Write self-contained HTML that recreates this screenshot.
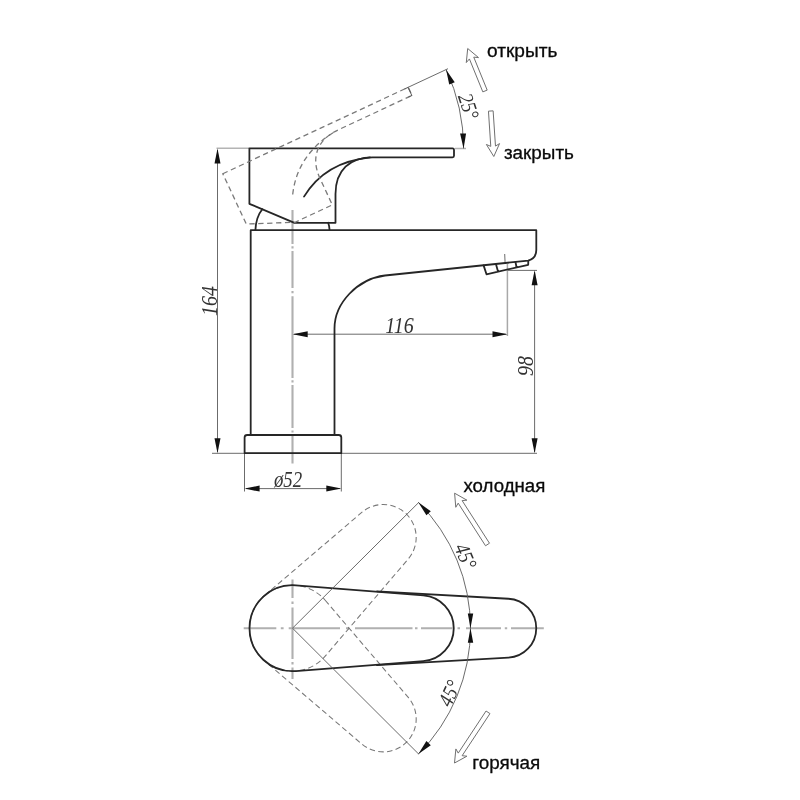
<!DOCTYPE html>
<html lang="ru"><head><meta charset="utf-8"><title>Схема смесителя</title>
<style>html,body{margin:0;padding:0;background:#fff}body{width:800px;height:800px;overflow:hidden}svg{display:block;will-change:transform;transform:translateZ(0)}.lbl{font-family:"Liberation Sans",sans-serif;font-size:18px;fill:#0a0a0a;stroke:#0a0a0a;stroke-width:0.3}.dim{font-family:"Liberation Serif",serif;font-style:italic;font-size:23.5px;fill:#333}.m{fill:none;stroke:#262626;stroke-width:1.8;stroke-linecap:round;stroke-linejoin:round}.t{fill:none;stroke:#5a5a5a;stroke-width:0.9}.d{fill:none;stroke:#7a7a7a;stroke-width:1.3;stroke-dasharray:5.3 3.6}.d2{fill:none;stroke:#777;stroke-width:1.05;stroke-dasharray:5.5 3.3}.cs{fill:none;stroke:#b0b0b0;stroke-width:2.1}.c{fill:none;stroke:#999;stroke-width:1.3;stroke-dasharray:22 4 3 4}</style></head><body>
<svg width="800" height="800" viewBox="0 0 800 800">
<rect width="800" height="800" fill="#fff"/>
<path class="cs" d="M292.5,210 V244 M292.5,246.3 V248.5 M292.5,251 V288 M292.5,291 V293.2 M292.5,296.2 V378 M292.5,380.3 V382.5 M292.5,385 V428 M292.5,430.5 V432.5 M292.5,435 V463.5"/>
<path class="t" d="M212,453.3 H537 M217.5,150 V452 M244.5,454 V491.5 M341.3,454 V491.5 M246,488.6 H340 M294,334.2 H506 M504.7,254 L505.1,263 M508,270.4 H537 M534.6,272 V452"/>
<path d="M507.4,264 V336" fill="none" stroke="#a8a8a8" stroke-width="1.5"/>
<path d="M216.5,148.2 H249 M455,148.5 H466" fill="none" stroke="#b4b4b4" stroke-width="1.4"/>
<path class="m" d="M249.4,148.3 H452.5 Q454,148.3 454,149.8 V155.8 Q454,157.3 452.5,157.3 H372.5 C350,157.3 335.5,170 335.5,194 V222.8 H294.4 L249.4,203.8 Z"/>
<path class="m" d="M304,196.6 Q325,162 370,157.3"/>
<g transform="rotate(-25 293.5 221)"><path class="d" d="M249.4,148.3 H452.5 Q454,148.3 454,149.8 V155.8 Q454,157.3 452.5,157.3 H372.5 C350,157.3 335.5,170 335.5,194 V222.8 H294.4 L249.4,203.8 Z"/><path class="d" d="M304,196.6 Q325,162 370,157.3"/><path class="t" d="M450,148.3 H453.8 V157.3 H450"/></g>
<path class="m" d="M255.4,230.2 Q256,217 262.3,209.3 M329.6,230.2 Q329.4,226 328.2,222.8"/>
<path class="m" d="M250.7,434 V230.2 H536.3 V250 Q536.3,258.3 528.3,260.6 L385,275.5 C357.5,279 334.5,303 334.5,328.5 V434"/>
<path class="m" d="M483.6,265.4 L486.5,274.3 L528.2,264.8 L528.3,260.6 M496,264.2 L498,271.5 M515.5,262.2 L516.6,267.4" style="stroke-width:1.8"/>
<path class="m" d="M244.6,453.2 V437.5 Q244.6,435 247.2,435 H338.7 Q341.3,435 341.3,437.5 V453.2 Z"/>
<polygon points="217.5,148.6 220.5,163.6 214.5,163.6" fill="#111"/>
<polygon points="217.5,453.2 214.5,438.2 220.5,438.2" fill="#111"/>
<polygon points="244.6,488.6 259.6,485.6 259.6,491.6" fill="#111"/>
<polygon points="341.3,488.6 326.3,491.6 326.3,485.6" fill="#111"/>
<polygon points="292.7,334.2 307.7,331.2 307.7,337.2" fill="#111"/>
<polygon points="507.5,334.2 492.5,337.2 492.5,331.2" fill="#111"/>
<polygon points="534.6,270.2 537.6,285.2 531.6,285.2" fill="#111"/>
<polygon points="534.6,453.2 531.6,438.2 537.6,438.2" fill="#111"/>
<path class="t" d="M446.12,69.64 A186.6,186.6 0 0 1 463.6,148.5"/>
<path class="t" d="M407.5,87.6 L448,68.7"/>
<polygon points="463.6,148.5 460.08,133.61 466.07,133.4" fill="#111"/>
<polygon points="446.12,69.64 454.74,82.27 449.22,84.62" fill="#111"/>
<text class="dim" transform="translate(216.5,301) rotate(-90) scale(0.85,1)" text-anchor="middle">164</text>
<text class="dim" transform="translate(399.5,333) scale(0.85,1)" text-anchor="middle">116</text>
<text class="dim" transform="translate(533,366) rotate(-90) scale(0.85,1)" text-anchor="middle">98</text>
<text class="dim" transform="translate(288,487.3) scale(0.8,1)" text-anchor="middle">ø52</text>
<text class="dim" transform="translate(461.8,108.5) rotate(72) scale(0.85,1)" style="font-size:21.5px" text-anchor="middle">25°</text>
<polygon points="487.18,90.11 473.76,57.15 478.53,57.59 467.7,48.5 466.3,62.57 469.41,58.93 482.82,91.89" fill="#fff" stroke="#707070" stroke-width="1" stroke-linejoin="miter"/>
<polygon points="488.46,111.15 490.78,146.38 486.39,144.46 493.8,156.5 499.56,143.59 495.47,146.07 493.14,110.85" fill="#fff" stroke="#707070" stroke-width="1" stroke-linejoin="miter"/>
<text class="lbl" x="487" y="56.6" textLength="70.4" lengthAdjust="spacingAndGlyphs">открыть</text>
<text class="lbl" x="503.9" y="158.6" textLength="70" lengthAdjust="spacingAndGlyphs">закрыть</text>
<path class="cs" d="M243.7,628.2 H276.3 M280.8,628.2 H283.6 M288.7,628.2 H340 M346,628.2 H349 M355,628.2 H412.5 M415,628.2 H417.5 M421,628.2 H452.5 M457.5,628.2 H460 M466,628.2 H501 M504.8,628.2 H507.2 M511,628.2 H543.8"/>
<path class="cs" d="M292.5,579.5 V598 M292.5,601.5 V604 M292.5,607.5 V659 M292.5,662 V664.5 M292.5,667.5 V679"/>
<path class="d2" d="M295.85,585.33 L423.32,595.3 A33,33 0 0 1 423.32,661.1 L295.85,671.07 A43,43 0 1 1 295.85,585.33 Z" transform="rotate(-45 292.5 628.2)"/>
<path class="d2" d="M295.85,585.33 L423.32,595.3 A33,33 0 0 1 423.32,661.1 L295.85,671.07 A43,43 0 1 1 295.85,585.33 Z" transform="rotate(45 292.5 628.2)"/>
<path class="m" d="M377,591.31 L508.47,598.75 A29.5,29.5 0 0 1 508.47,657.65 L377,665.09"/>
<path class="m" d="M295.85,585.33 L423.32,595.3 A33,33 0 0 1 423.32,661.1 L295.85,671.07 A43,43 0 1 1 295.85,585.33 Z"/>
<path class="t" d="M418.8,502.4 L292.5,628.2 L418.8,754.2"/>
<path class="t" d="M418.37,502.33 A178,178 0 0 1 418.37,754.07"/>
<polygon points="470.5,628.2 467.8,613.6 473.2,613.6" fill="#111"/>
<polygon points="470.5,628.2 473.2,642.8 467.8,642.8" fill="#111"/>
<polygon points="418.37,502.33 430.79,511.26 426.4,515.35" fill="#111"/>
<polygon points="418.37,754.07 426.4,741.05 430.79,745.14" fill="#111"/>
<text class="dim" transform="translate(459,559) rotate(67) scale(0.85,1)" style="font-size:21.5px" text-anchor="middle">45°</text>
<text class="dim" transform="translate(456,696.3) rotate(-65) scale(0.85,1)" style="font-size:21.5px" text-anchor="middle">45°</text>
<polygon points="489.48,543.23 462.14,500.6 466.9,500.16 454.6,493.2 455.79,507.29 458.18,503.14 485.52,545.77" fill="#fff" stroke="#707070" stroke-width="1" stroke-linejoin="miter"/>
<polygon points="486.04,711 458.22,753.11 455.88,748.93 454.5,763 466.9,756.21 462.14,755.7 489.96,713.6" fill="#fff" stroke="#707070" stroke-width="1" stroke-linejoin="miter"/>
<text class="lbl" x="463.5" y="492" textLength="81.8" lengthAdjust="spacingAndGlyphs">холодная</text>
<text class="lbl" x="472.3" y="769.2" textLength="68" lengthAdjust="spacingAndGlyphs">горячая</text>
</svg></body></html>
